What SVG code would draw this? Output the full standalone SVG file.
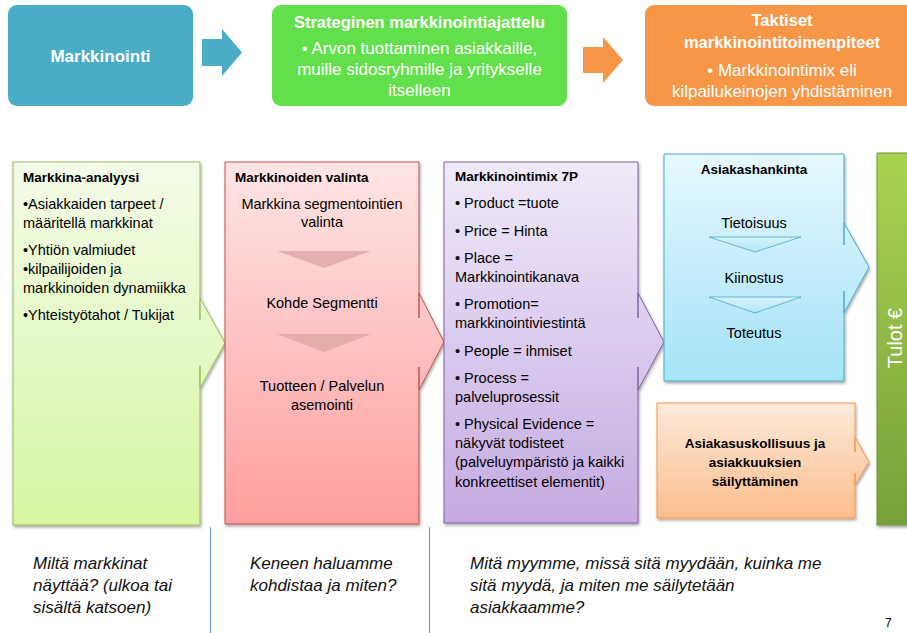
<svg xmlns="http://www.w3.org/2000/svg" width="907" height="633" viewBox="0 0 907 633">
  <defs>
    <linearGradient id="gGreen" x1="0" y1="0" x2="0" y2="1">
      <stop offset="0" stop-color="#F3FBE8"/>
      <stop offset="1" stop-color="#D6F6A2"/>
    </linearGradient>
    <linearGradient id="gRed" x1="0" y1="0" x2="0" y2="1">
      <stop offset="0" stop-color="#FFE5E5"/>
      <stop offset="1" stop-color="#FF9E9E"/>
    </linearGradient>
    <linearGradient id="gPurple" x1="0" y1="0" x2="0" y2="1">
      <stop offset="0" stop-color="#F0EAF8"/>
      <stop offset="1" stop-color="#C4AAE2"/>
    </linearGradient>
    <linearGradient id="gBlue" x1="0" y1="0" x2="0" y2="1">
      <stop offset="0" stop-color="#E6F8FD"/>
      <stop offset="1" stop-color="#A4E3F8"/>
    </linearGradient>
    <linearGradient id="gOrange" x1="0" y1="0" x2="0" y2="1">
      <stop offset="0" stop-color="#FEEADB"/>
      <stop offset="1" stop-color="#FBBD8C"/>
    </linearGradient>
    <linearGradient id="gTulot" x1="0" y1="0" x2="0" y2="1">
      <stop offset="0" stop-color="#A9D44F"/>
      <stop offset="1" stop-color="#77A03A"/>
    </linearGradient>
    <linearGradient id="gBlueChev" x1="0" y1="0" x2="0" y2="1">
      <stop offset="0" stop-color="#D6F2FB"/>
      <stop offset="1" stop-color="#B4E7F8"/>
    </linearGradient>
    <filter id="shadow" x="-10%" y="-10%" width="120%" height="120%">
      <feGaussianBlur in="SourceAlpha" stdDeviation="1.5"/>
      <feOffset dx="1" dy="2" result="b"/>
      <feComponentTransfer><feFuncA type="linear" slope="0.35"/></feComponentTransfer>
      <feMerge><feMergeNode/><feMergeNode in="SourceGraphic"/></feMerge>
    </filter>
  </defs>
  <style>
    text { font-family: "Liberation Sans", Arial, sans-serif; fill: #000; }
    .w { fill: #FFFFFF; }
    .b { font-weight: bold; }
    .hd { font-size: 13.5px; font-weight: bold; }
    .tx { font-size: 14.5px; }
    .top { font-size: 17px; }
    .toph { font-size: 16.5px; font-weight: bold; }
    .c { text-anchor: middle; }
    .note { font-size: 17px; font-style: italic; fill: #111; }
    .box { stroke-width: 1; filter: url(#shadow); }
  </style>

  <rect width="907" height="633" fill="#FFFFFF"/>

  <!-- top row -->
  <g id="markkinointi">
    <rect x="8" y="5" width="185" height="101" rx="9" fill="#4BACC6"/>
    <text class="w b c" font-size="17" x="100.5" y="62">Markkinointi</text>
  </g>

  <g id="strateginen">
    <rect x="272" y="5" width="295" height="101" rx="9" fill="#62E04B"/>
    <text class="w toph c" x="419.5" y="28">Strateginen markkinointiajattelu</text>
    <text class="w top c" x="419.5" y="54">• Arvon tuottaminen asiakkaille,</text>
    <text class="w top c" x="419.5" y="75">muille sidosryhmille ja yritykselle</text>
    <text class="w top c" x="419.5" y="96">itselleen</text>
  </g>

  <g id="taktiset">
    <rect x="645" y="5" width="280" height="101" rx="9" fill="#F79646"/>
    <text class="w toph c" x="782" y="26">Taktiset</text>
    <text class="w toph c" x="782" y="48">markkinointitoimenpiteet</text>
    <text class="w top c" x="782" y="76">• Markkinointimix eli</text>
    <text class="w top c" x="782" y="97">kilpailukeinojen yhdistäminen</text>
  </g>

  <g id="connectors">
    <polygon points="202,39 222,39 222,29 242,52.5 222,76 222,66 202,66" fill="#4BACC6"/>
    <polygon points="583,47 603,47 603,37 623,60 603,83 603,73 583,73" fill="#F79646"/>
  </g>

  <!-- main row -->
  <g id="markkina-analyysi">
    <path class="box" d="M13,162 H200 V320 V298 L225,343 L200,388 V366 V525 H13 Z" fill="url(#gGreen)" stroke="#9BBB59"/>
    <text class="hd" x="23" y="182">Markkina-analyysi</text>
    <text class="tx" x="23" y="209">•Asiakkaiden tarpeet /</text>
    <text class="tx" x="23" y="228">määritellä markkinat</text>
    <text class="tx" x="23" y="255">•Yhtiön valmiudet</text>
    <text class="tx" x="23" y="274">•kilpailijoiden ja</text>
    <text class="tx" x="23" y="293">markkinoiden dynamiikka</text>
    <text class="tx" x="23" y="320">•Yhteistyötahot / Tukijat</text>
  </g>

  <g id="markkinoiden-valinta">
    <path class="box" d="M225,162 H419 V318 V293 L444,342 L419,390 V367 V524 H225 Z" fill="url(#gRed)" stroke="#C9504D"/>
    <polygon points="277,251 371,251 324,268" fill="#DFA6A6" opacity="0.8"/>
    <polygon points="277,334 371,334 324,352" fill="#DFA6A6" opacity="0.8"/>
    <text class="hd" x="235" y="182">Markkinoiden valinta</text>
    <text class="tx c" x="322" y="209">Markkina segmentointien</text>
    <text class="tx c" x="322" y="227">valinta</text>
    <text class="tx c" x="322" y="308">Kohde Segmentti</text>
    <text class="tx c" x="322" y="391">Tuotteen / Palvelun</text>
    <text class="tx c" x="322" y="410">asemointi</text>
  </g>

  <g id="markkinointimix">
    <path class="box" d="M444,162 H638 V318 V293 L664,342 L638,390 V367 V523 H444 Z" fill="url(#gPurple)" stroke="#8064A2"/>
    <text class="hd" x="455" y="181">Markkinointimix 7P</text>
    <text class="tx" x="455" y="208">• Product =tuote</text>
    <text class="tx" x="455" y="236">• Price = Hinta</text>
    <text class="tx" x="455" y="263">• Place =</text>
    <text class="tx" x="455" y="282">Markkinointikanava</text>
    <text class="tx" x="455" y="309">• Promotion=</text>
    <text class="tx" x="455" y="328">markkinointiviestintä</text>
    <text class="tx" x="455" y="356">• People = ihmiset</text>
    <text class="tx" x="455" y="383">• Process =</text>
    <text class="tx" x="455" y="402">palveluprosessit</text>
    <text class="tx" x="455" y="429">• Physical Evidence =</text>
    <text class="tx" x="455" y="448">näkyvät todisteet</text>
    <text class="tx" x="455" y="467">(palveluympäristö ja kaikki</text>
    <text class="tx" x="455" y="487">konkreettiset elementit)</text>
  </g>

  <g id="asiakashankinta">
    <path class="box" d="M664,154 H844 V245 V223 L869,267 L844,313 V291 V381 H664 Z" fill="url(#gBlue)" stroke="#4BACC6"/>
    <polygon points="709,237 801,237 755,252" fill="url(#gBlueChev)" stroke="#4BACC6" stroke-width="0.8"/>
    <polygon points="709,297 801,297 755,313" fill="url(#gBlueChev)" stroke="#4BACC6" stroke-width="0.8"/>
    <text class="hd c" x="754" y="174">Asiakashankinta</text>
    <text class="tx c" x="754" y="228">Tietoisuus</text>
    <text class="tx c" x="754" y="283">Kiinostus</text>
    <text class="tx c" x="754" y="338">Toteutus</text>
  </g>

  <g id="asiakasuskollisuus">
    <path class="box" d="M657,403 H855 V452 V437 L869,462 L855,485 V473 V518 H657 Z" fill="url(#gOrange)" stroke="#F79646"/>
    <text class="hd c" x="755" y="448">Asiakasuskollisuus ja</text>
    <text class="hd c" x="755" y="467">asiakkuuksien</text>
    <text class="hd c" x="755" y="486">säilyttäminen</text>
  </g>

  <g id="tulot">
    <rect class="box" x="877" y="153" width="40" height="372" fill="url(#gTulot)" stroke="#77933C"/>
    <text class="w c" font-size="20" transform="translate(902,338) rotate(-90)">Tulot  €</text>
  </g>

  <!-- column separators -->
  <g id="separators" stroke="#5B9BD5" stroke-width="1">
    <line x1="210.5" y1="527" x2="210.5" y2="633"/>
    <line x1="429.5" y1="527" x2="429.5" y2="633"/>
  </g>

  <!-- questions under the columns -->
  <g id="questions">
    <text class="note" x="33" y="569">Miltä markkinat</text>
    <text class="note" x="33" y="591">näyttää? (ulkoa tai</text>
    <text class="note" x="33" y="613">sisältä katsoen)</text>
    <text class="note" x="250" y="569">Keneen haluamme</text>
    <text class="note" x="250" y="591">kohdistaa ja miten?</text>
    <text class="note" x="470" y="569">Mitä myymme, missä sitä myydään, kuinka me</text>
    <text class="note" x="470" y="591">sitä myydä, ja miten me säilytetään</text>
    <text class="note" x="470" y="613">asiakkaamme?</text>
  </g>

  <text x="885" y="627" font-size="12" fill="#8C8C8C">7</text>
</svg>
